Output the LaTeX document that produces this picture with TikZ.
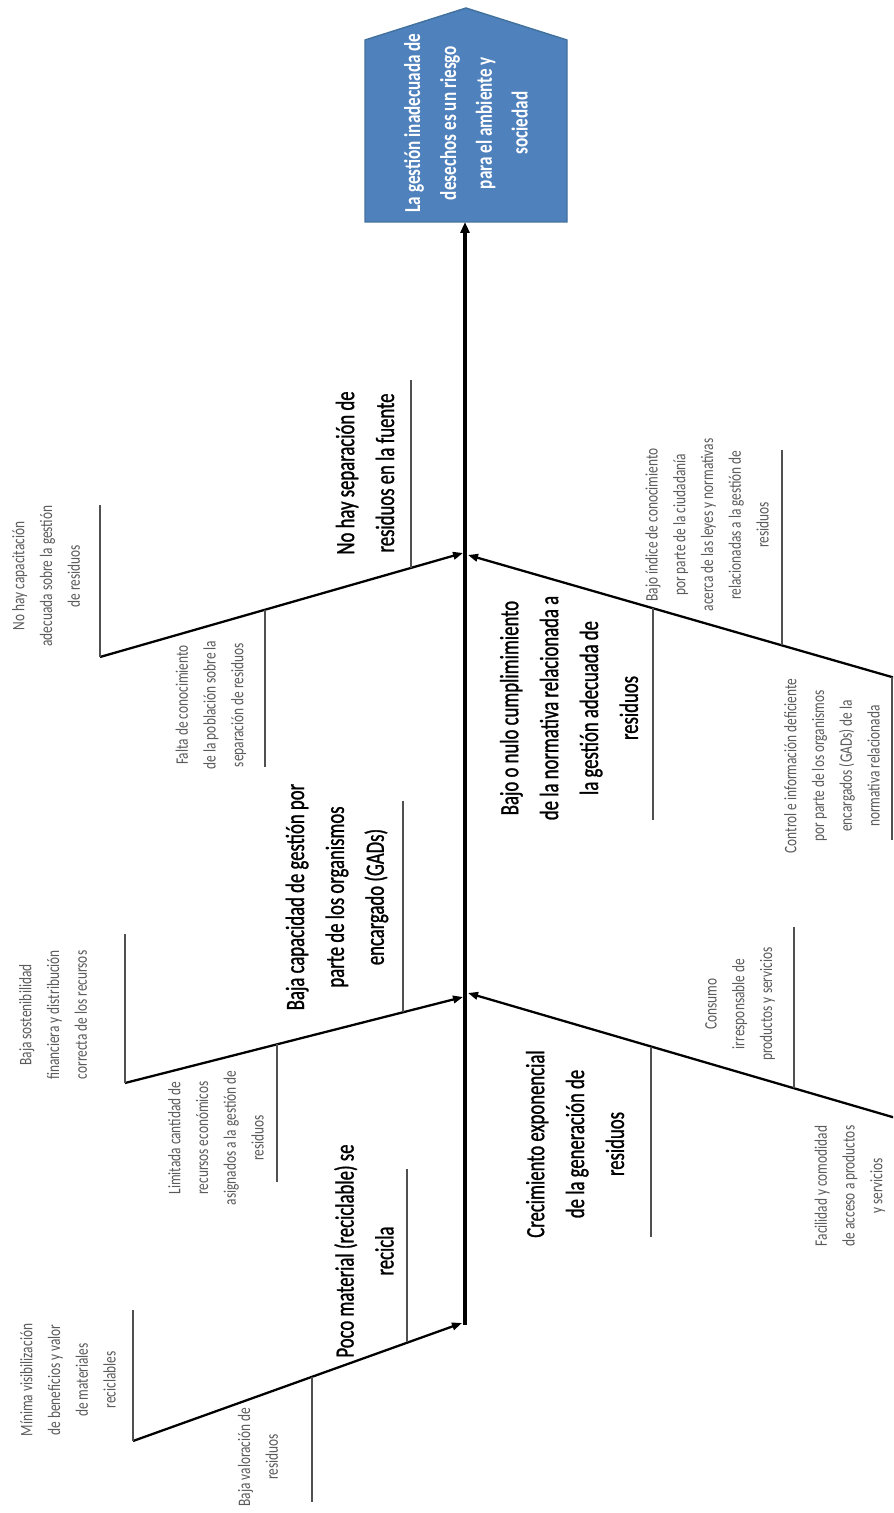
\documentclass[tikz,border=0pt]{standalone}
\usepackage{fontspec}
\setmainfont{Carlito}
\newfontfamily\headfont[FakeStretch=0.75]{Carlito}
\newfontfamily\catfont[FakeStretch=0.71, FakeBold=1]{Carlito}
\newfontfamily\subfont[FakeStretch=0.76]{Carlito}
\usetikzlibrary{arrows.meta}
\definecolor{hblue}{HTML}{4F81BD}
\definecolor{hborder}{HTML}{41719C}
\definecolor{cgrey}{HTML}{505050}
\definecolor{ctext}{HTML}{5A5A5A}
\tikzset{
  headbox/.style={draw=hborder, fill=hblue, line width=0.8pt},
  headtext/.style={rotate=90, align=center, text=white, font=\headfont\bfseries\fontsize{13}{20.4}\selectfont},
  cause/.style={rotate=90, align=center, font=\catfont\fontsize{15}{22.7}\selectfont},
  subcause/.style={rotate=90, align=center, text=ctext, font=\subfont\fontsize{10}{15.8}\selectfont},
  spine/.style={line width=2.2pt, -{Triangle[length=2.2mm, width=1.8mm]}},
  bone/.style={line width=1.3pt, -{Triangle[length=2mm, width=1.5mm]}},
  tick/.style={draw=cgrey, line width=0.6pt},
}
\begin{document}
\begin{tikzpicture}[x=0.02cm, y=-0.02cm]
  \useasboundingbox (0,0) rectangle (893,1513);
  \clip (0,0) rectangle (893,1513);
  % head: the problem
  \draw[headbox] (365,222) -- (365,40) -- (466,8) -- (567,40) -- (567,222) -- cycle;
  \node[headtext] (head) at (466,123) {La gestión inadecuada de\\desechos es un riesgo\\para el ambiente y\\sociedad};
  % spine
  \coordinate (tail) at (465,1325);
  \coordinate (headbase) at (465,222);
  \coordinate (jtopL) at (463,553);
  \coordinate (jtopR) at (468,555);
  \coordinate (jmidL) at (463,997);
  \coordinate (jmidR) at (468,993);
  \coordinate (tailL) at (462,1323);
  \draw[spine] (tail) -- (headbase);
  % bones
  \coordinate (a0) at (100,657);
  \coordinate (b0) at (125,1083);
  \coordinate (c0) at (133,1441);
  \coordinate (d0) at (930,688);
  \coordinate (e0) at (930,1128);
  \draw[bone] (a0) -- (jtopL);
  \draw[bone] (b0) -- (jmidL);
  \draw[bone] (c0) -- (tailL);
  \draw[bone] (d0) -- (jtopR);
  \draw[bone] (e0) -- (jmidR);
  % causes
  \node[cause] (catA) at (365,473) {No hay separación de\\residuos en la fuente};
  \node[cause] (catB) at (337,897) {Baja capacidad de gestión por\\parte de los organismos\\encargado (GADs)};
  \node[cause] (catC) at (364,1251) {Poco material (reciclable) se\\recicla};
  \node[cause] (catD) at (569,708) {Bajo o nulo cumplimimiento\\de la normativa relacionada a\\la gestión adecuada de\\residuos};
  \node[cause] (catE) at (575,1144) {Crecimiento exponencial\\de la generación de\\residuos};
  \draw[tick] (411,380) -- (411,568);
  \draw[tick] (403,801) -- (403,1012);
  \draw[tick] (407,1169) -- (407,1342);
  \draw[tick] (653,608) -- (653,820);
  \draw[tick] (651,1047) -- (651,1237);
  % sub-causes
  \node[subcause] (subA1) at (46,576) {No hay capacitación\\adecuada sobre la gestión\\de residuos};
  \node[subcause] (subA2) at (211,705) {Falta de conocimiento\\de la población sobre la\\separación de residuos};
  \node[subcause] (subB1) at (53,1015) {Baja sostenibilidad\\financiera y distribución\\correcta de los recursos};
  \node[subcause] (subB2) at (216,1138) {Limitada cantidad de\\recursos económicos\\asignados a la gestión de\\residuos};
  \node[subcause] (subC1) at (68,1380) {Mínima visibilización\\de beneficios y valor\\de materiales\\reciclables};
  \node[subcause] (subC2) at (258,1457) {Baja valoración de\\residuos};
  \node[subcause] (subD1) at (707,525) {Bajo índice de conocimiento\\por parte de la ciudadanía\\acerca de las leyes y normativas\\relacionadas a la gestión de\\residuos};
  \node[subcause] (subD2) at (832,766) {Control e información deficiente\\por parte de los organismos\\encargados (GADs) de la\\normativa relacionada};
  \node[subcause] (subE1) at (740,1004) {Consumo\\irresponsable de\\productos y servicios};
  \node[subcause] (subE2) at (850,1186) {Facilidad y comodidad\\de acceso a productos\\y servicios};
  \draw[tick] (100,505) -- (a0);
  \draw[tick] (265,610) -- (265,767);
  \draw[tick] (125,934) -- (b0);
  \draw[tick] (277,1044) -- (277,1182);
  \draw[tick] (133,1310) -- (c0);
  \draw[tick] (312,1377) -- (312,1502);
  \draw[tick] (782,450) -- (782,645);
  \draw[tick] (892,677) -- (892,840);
  \draw[tick] (794,927) -- (794,1088);
\end{tikzpicture}
\end{document}
